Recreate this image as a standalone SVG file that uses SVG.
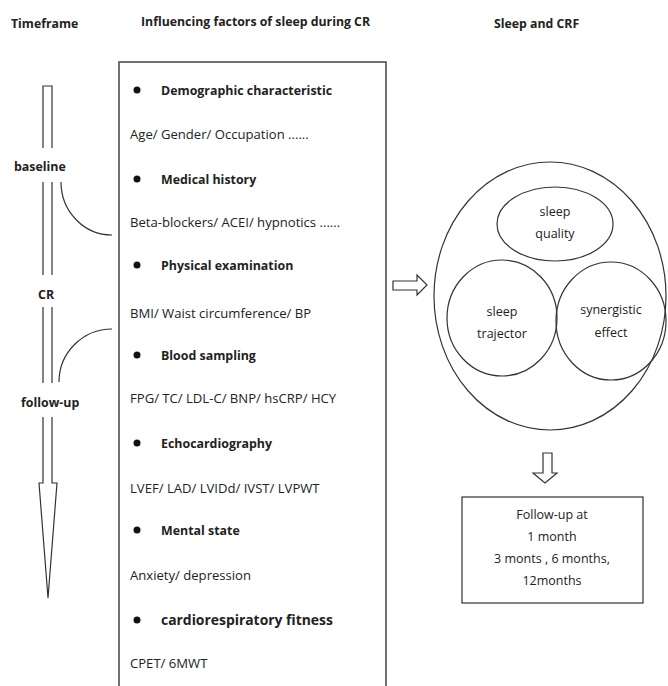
<svg xmlns="http://www.w3.org/2000/svg" width="668" height="686" viewBox="0 0 668 686">
<style>
text{font-family:"Open Sans","Liberation Sans",sans-serif;fill:#222;}
.h{font-size:12.3px;font-weight:bold;}
.t{font-size:13.1px;}
.b{font-size:12.4px;font-weight:bold;}
.c{font-size:12.5px;text-anchor:middle;}
.ln{fill:none;stroke:#333;stroke-width:1.2;}
.bx{fill:#fff;stroke:#444;stroke-width:1.5;}
</style>
<rect width="668" height="686" fill="#fff"/>
<g id="headers">
<text class="h" x="11" y="28">Timeframe</text>
<text class="h" x="141" y="26">Influencing factors of sleep during CR</text>
<text class="h" x="494" y="28">Sleep and CRF</text>
</g>
<g id="timeline">
<path class="ln" d="M43,148 V86 H52 V148"/>
<path class="ln" d="M43,182 V275 M52,182 V275"/>
<path class="ln" d="M43,307 V383 M52,307 V383"/>
<path class="ln" d="M43,417 V483 H39 L48,598 L57,483 H52 V417"/>
<text class="b" x="14" y="171">baseline</text>
<text class="b" x="38" y="299">CR</text>
<text class="b" x="21" y="407">follow-up</text>
</g>
<g id="connectors">
<path class="ln" d="M61,182 A51,53 0 0 0 112,235"/>
<path class="ln" d="M112,329 A53,53 0 0 0 59,382"/>
<path class="ln" d="M393,281 H417 V275 L427,285 L417,295 V290 H393 Z"/>
<path class="ln" d="M543,453 V473 H533 L545,483 L557,473 H552 V453 Z"/>
</g>
<g id="factors">
<path class="bx" d="M119,690 V62 H386 V690" fill="none"/>
<circle cx="137" cy="90" r="3.5" fill="#111"/>
<text class="b" x="161" y="95">Demographic characteristic</text>
<text class="t" x="130" y="139">Age/ Gender/ Occupation ......</text>
<circle cx="137" cy="179" r="3.5" fill="#111"/>
<text class="b" x="161" y="184">Medical history</text>
<text class="t" x="130" y="227">Beta-blockers/ ACEI/ hypnotics ......</text>
<circle cx="137" cy="265" r="3.5" fill="#111"/>
<text class="b" x="161" y="270">Physical examination</text>
<text class="t" x="130" y="318">BMI/ Waist circumference/ BP</text>
<circle cx="137" cy="355" r="3.5" fill="#111"/>
<text class="b" x="161" y="360">Blood sampling</text>
<text class="t" x="130" y="403">FPG/ TC/ LDL-C/ BNP/ hsCRP/ HCY</text>
<circle cx="137" cy="443" r="3.5" fill="#111"/>
<text class="b" x="161" y="448">Echocardiography</text>
<text class="t" x="130" y="493">LVEF/ LAD/ LVIDd/ IVST/ LVPWT</text>
<circle cx="137" cy="530" r="3.5" fill="#111"/>
<text class="b" x="161" y="535">Mental state</text>
<text class="t" x="130" y="580">Anxiety/ depression</text>
<circle cx="137" cy="620" r="3.5" fill="#111"/>
<text class="b" x="161" y="625" style="font-size:13.9px">cardiorespiratory fitness</text>
<text class="t" x="130" y="668">CPET/ 6MWT</text>
</g>
<g id="sleep-crf">
<ellipse class="ln" cx="550" cy="296" rx="116" ry="134"/>
</g>
<g id="sleep-quality">
<ellipse class="ln" cx="555" cy="224" rx="58" ry="37"/>
<text class="c" x="555" y="216">sleep</text>
<text class="c" x="555" y="238">quality</text>
</g>
<g id="sleep-trajector">
<ellipse class="ln" cx="502" cy="318" rx="55" ry="58"/>
<text class="c" x="502" y="316">sleep</text>
<text class="c" x="502" y="338">trajector</text>
</g>
<g id="synergistic-effect">
<ellipse class="ln" cx="611" cy="321" rx="55" ry="59"/>
<text class="c" x="611" y="314">synergistic</text>
<text class="c" x="611" y="337">effect</text>
</g>
<g id="follow-up">
<rect class="bx" x="462" y="497" width="181" height="106" style="stroke:#333;stroke-width:1.2"/>
<text class="c" x="552" y="519">Follow-up at</text>
<text class="c" x="552" y="541">1 month</text>
<text class="c" x="552" y="563">3 monts , 6 months,</text>
<text class="c" x="552" y="585">12months</text>
</g>
</svg>
